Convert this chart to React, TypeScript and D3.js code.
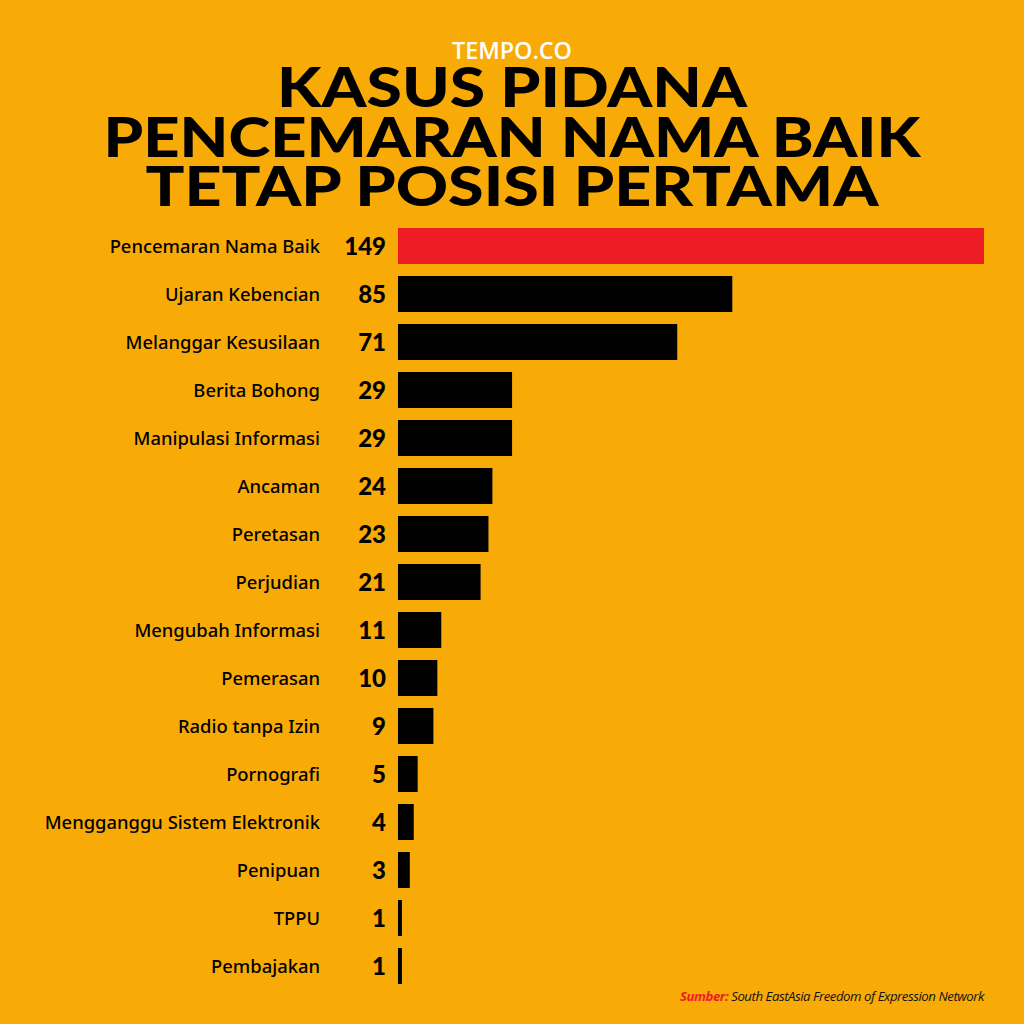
import * as d3 from "d3";

const categories = [
  "Pencemaran Nama Baik",
  "Ujaran Kebencian",
  "Melanggar Kesusilaan",
  "Berita Bohong",
  "Manipulasi Informasi",
  "Ancaman",
  "Peretasan",
  "Perjudian",
  "Mengubah Informasi",
  "Pemerasan",
  "Radio tanpa Izin",
  "Pornografi",
  "Mengganggu Sistem Elektronik",
  "Penipuan",
  "TPPU",
  "Pembajakan",
];
const cases = [149, 85, 71, 29, 29, 24, 23, 21, 11, 10, 9, 5, 4, 3, 1, 1];

const titleLines = ["KASUS PIDANA", "PENCEMARAN NAMA BAIK", "TETAP POSISI PERTAMA"];
const titleWidths = [470, 817, 733];

const W = 1024;
const H = 1024;
const BG = "#F8AB07";
const RED = "#EE1D25";

export default function App() {
  const x = d3.scaleLinear().domain([0, 149]).range([398, 984]);
  const y = d3
    .scaleBand()
    .domain(categories)
    .range([228, 228 + 48 * categories.length - 12])
    .paddingInner(0.25)
    .paddingOuter(0);

  const titleFont = "'Lato', 'Open Sans', sans-serif";
  const labelFont = "'Noto Sans', 'Open Sans', sans-serif";

  return (
    <div style={{ position: "absolute", left: 0, top: 0 }}>
      <svg width={W} height={H} style={{ display: "block" }}>
        <rect width={W} height={H} fill={BG} />

        {/* brand */}
        <text
          x={512}
          y={59}
          textAnchor="middle"
          fill="#fff"
          fontFamily="'Open Sans', sans-serif"
          fontWeight={600}
          fontSize={24}
          textLength={120}
          lengthAdjust="spacingAndGlyphs"
        >
          TEMPO.CO
        </text>

        {/* title */}
        {titleLines.map((t, i) => (
          <text
            key={t}
            x={512}
            y={107 + i * 49.5}
            textAnchor="middle"
            fill="#000"
            fontFamily={titleFont}
            fontWeight={900}
            fontSize={55}
            textLength={titleWidths[i]}
            lengthAdjust="spacingAndGlyphs"
          >
            {t}
          </text>
        ))}

        {/* bars */}
        {categories.map((c, i) => {
          const yy = y(c)!;
          const bh = y.bandwidth();
          return (
            <g key={c}>
              <rect
                x={x(0)}
                y={yy}
                width={Math.max(x(cases[i]) - x(0), 3)}
                height={bh}
                fill={i === 0 ? RED : "#000"}
              />
              <text
                x={386}
                y={yy + bh / 2}
                dy="0.36em"
                textAnchor="end"
                fontFamily={titleFont}
                fontWeight={900}
                fontSize={24}
                fill="#000"
              >
                {cases[i]}
              </text>
              <text
                x={320}
                y={yy + bh / 2}
                dy="0.36em"
                textAnchor="end"
                fontFamily={labelFont}
                fontWeight={500}
                fontSize={18.4}
                fill="#000"
              >
                {c}
              </text>
            </g>
          );
        })}

        {/* source */}
        <text
          x={984}
          y={1001}
          textAnchor="end"
          fontFamily="'Open Sans', sans-serif"
          fontStyle="italic"
          fontSize={13.2}
          letterSpacing={-0.45}
          fill="#111"
        >
          <tspan fill={RED} fontWeight={700}>
            Sumber:
          </tspan>
          <tspan> South EastAsia Freedom of Expression Network</tspan>
        </text>
      </svg>
    </div>
  );
}
